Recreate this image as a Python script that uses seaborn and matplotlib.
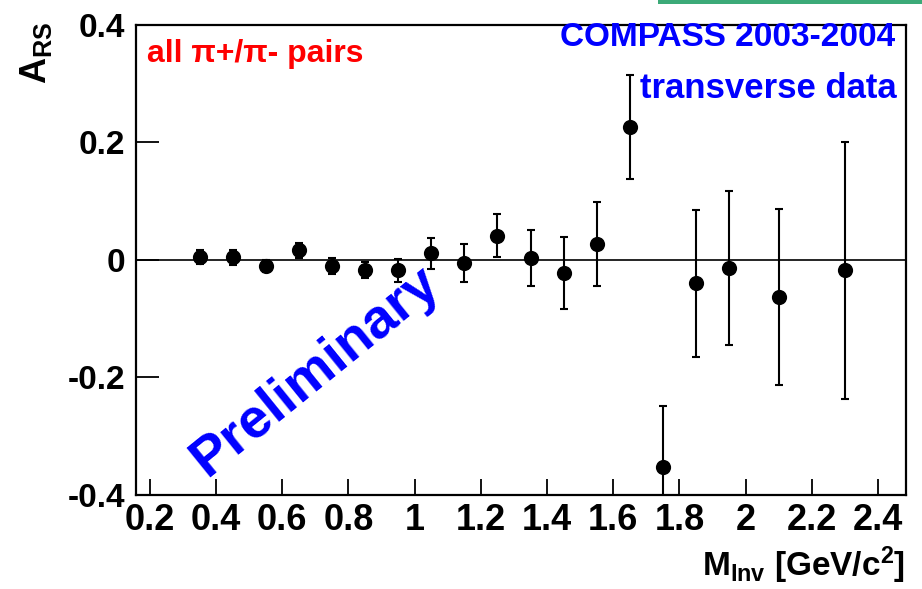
import numpy as np
import pandas as pd
import matplotlib
matplotlib.use('Agg')
import matplotlib.pyplot as plt
from matplotlib.patches import Rectangle
import seaborn as sns

# данные
m_inv = [0.35, 0.45, 0.55, 0.65, 0.75, 0.85, 0.95, 1.05, 1.15, 1.25,
         1.35, 1.45, 1.55, 1.65, 1.75, 1.85, 1.95, 2.1, 2.3]
a_rs = [0.005, 0.004, -0.010, 0.016, -0.011, -0.017, -0.018, 0.011, -0.006, 0.041,
        0.003, -0.022, 0.027, 0.226, -0.352, -0.040, -0.014, -0.063, -0.018]
a_err = [0.012, 0.013, 0.010, 0.013, 0.014, 0.014, 0.020, 0.026, 0.032, 0.037,
         0.047, 0.061, 0.072, 0.088, 0.103, 0.125, 0.131, 0.150, 0.218]

x_ticks = [0.2, 0.4, 0.6, 0.8, 1.0, 1.2, 1.4, 1.6, 1.8, 2.0, 2.2, 2.4]
x_labels = ['0.2', '0.4', '0.6', '0.8', '1', '1.2', '1.4', '1.6', '1.8', '2', '2.2', '2.4']
y_ticks = [-0.4, -0.2, 0.0, 0.2, 0.4]
y_labels = ['-0.4', '-0.2', '0', '0.2', '0.4']

# параметры оформления
sns.set_theme(style='white')
plt.rcParams['font.family'] = ['Liberation Sans', 'DejaVu Sans']
plt.rcParams['font.weight'] = 'bold'
plt.rcParams['text.color'] = 'black'
plt.rcParams['xtick.color'] = 'black'
plt.rcParams['ytick.color'] = 'black'
plt.rcParams['axes.labelcolor'] = 'black'
plt.rcParams['mathtext.fontset'] = 'custom'
plt.rcParams['mathtext.rm'] = 'Liberation Sans:bold'
plt.rcParams['mathtext.bf'] = 'Liberation Sans:bold'
plt.rcParams['mathtext.it'] = 'Liberation Sans:bold'

df = pd.DataFrame({'m': m_inv, 'a': a_rs, 'err': a_err})

fig = plt.figure(figsize=(9.22, 5.89), dpi=100)
ax = fig.add_axes([0.1475, 0.1596, 0.835, 0.7988])

# нулевая линия и точки с ошибками
ax.axhline(0, color='black', lw=1.2, zorder=1)
ax.errorbar(df['m'], df['a'], yerr=df['err'], fmt='none', ecolor='black',
            elinewidth=1.5, capsize=3, capthick=1.5, zorder=2)
sns.scatterplot(data=df, x='m', y='a', color='black', s=120, linewidth=0, ax=ax, zorder=3)

ax.set_xlim(0.158, 2.484)
ax.set_ylim(-0.4, 0.4)
ax.set_xticks(x_ticks)
ax.set_xticklabels(x_labels)
ax.set_yticks(y_ticks)
ax.set_yticklabels(y_labels)
ax.tick_params(axis='x', direction='in', length=11.5, width=1.3, pad=6,
               labelsize=26, bottom=True, top=False, colors='black')
ax.tick_params(axis='y', direction='in', length=16.5, width=1.3, pad=8,
               labelsize=24, left=True, right=False, colors='black')
for s in ax.spines.values():
    s.set_color('black')
    s.set_linewidth(1.6)
ax.set_xlabel('')
ax.set_ylabel('')

# надписи
ax.text(0.0143, 0.920, 'all π+/π- pairs', transform=ax.transAxes, color='red',
        fontsize=23, fontweight='bold', ha='left', va='baseline')
ax.text(0.9857, 0.954, 'COMPASS 2003-2004', transform=ax.transAxes, color='blue',
        fontsize=24, fontweight='bold', ha='right', va='baseline')
ax.text(0.988, 0.8438, 'transverse data', transform=ax.transAxes, color='blue',
        fontsize=25, fontweight='bold', ha='right', va='baseline')
ax.text(0.70, -0.19, 'Preliminary', color='blue', fontsize=40, fontweight='bold',
        rotation=39, ha='center', va='center', rotation_mode='anchor')

fig.text(36 / 922, 1 - 22 / 589, r'$\mathbf{A_{RS}}$', rotation=90, fontsize=26,
         ha='center', va='top')
fig.text(905 / 922, 1 - 576 / 589, r'$\mathbf{M_{Inv}}$ [GeV/c$^{\mathbf{2}}$]',
         fontsize=24, fontweight='bold', ha='right', va='baseline')

# зелёная полоска сверху справа
fig.patches.append(Rectangle((658 / 922, 1 - 4 / 589), 1 - 658 / 922, 4 / 589,
                             transform=fig.transFigure, color='#3caa78', lw=0))

fig.savefig('out.png', dpi=100)
plt.close(fig)
